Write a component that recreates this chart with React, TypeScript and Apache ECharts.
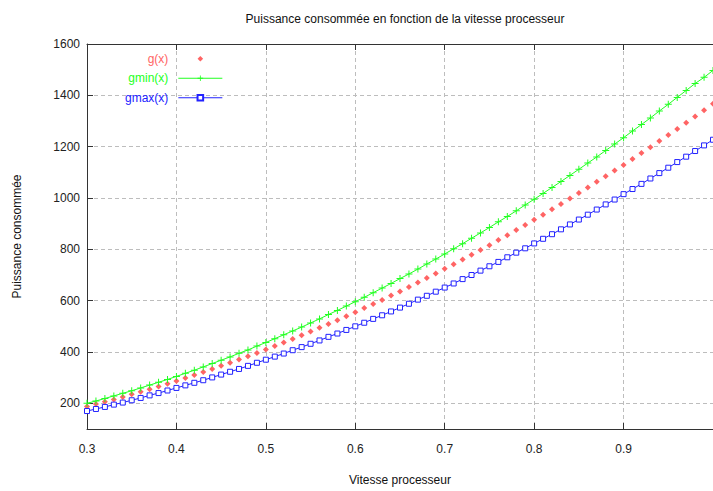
import React, { useEffect, useRef } from "react";
import * as echarts from "echarts";

const TITLE = "Puissance consommée en fonction de la vitesse processeur";
const X_NAME = "Vitesse processeur";
const Y_NAME = "Puissance consommée";
const SERIES_NAMES = ["g(x)", "gmin(x)", "gmax(x)"];

const xs = [
  0.3, 0.31, 0.32, 0.33, 0.34, 0.35, 0.36, 0.37, 0.38, 0.39,
  0.4, 0.41, 0.42, 0.43, 0.44, 0.45, 0.46, 0.47, 0.48, 0.49,
  0.5, 0.51, 0.52, 0.53, 0.54, 0.55, 0.56, 0.57, 0.58, 0.59,
  0.6, 0.61, 0.62, 0.63, 0.64, 0.65, 0.66, 0.67, 0.68, 0.69,
  0.7, 0.71, 0.72, 0.73, 0.74, 0.75, 0.76, 0.77, 0.78, 0.79,
  0.8, 0.81, 0.82, 0.83, 0.84, 0.85, 0.86, 0.87, 0.88, 0.89,
  0.9, 0.91, 0.92, 0.93, 0.94, 0.95, 0.96, 0.97, 0.98, 0.99,
  1.0,
];

const gValues = [
  188, 197, 206, 215, 225, 235, 245, 255, 266, 276,
  287, 299, 310, 322, 334, 346, 358, 371, 383, 396,
  410, 423, 437, 451, 465, 480, 494, 509, 524, 539,
  555, 571, 587, 603, 620, 636, 653, 671, 688, 706,
  724, 742, 760, 779, 797, 816, 836, 855, 875, 895,
  915, 935, 956, 977, 998, 1019, 1041, 1063, 1085, 1107,
  1129, 1152, 1175, 1198, 1222, 1245, 1269, 1293, 1318, 1342,
  1367,
];

const gminValues = [
  200, 209, 219, 229, 239, 249, 260, 271, 282, 293,
  305, 317, 329, 342, 355, 368, 381, 395, 408, 423,
  437, 452, 467, 482, 497, 513, 529, 546, 562, 579,
  596, 613, 631, 649, 667, 686, 704, 723, 743, 762,
  782, 802, 822, 843, 864, 885, 907, 928, 950, 973,
  995, 1018, 1041, 1064, 1088, 1112, 1136, 1160, 1185, 1210,
  1235, 1261, 1286, 1312, 1339, 1365, 1392, 1419, 1446, 1470,
  1497,
];

const gmaxValues = [
  170, 178, 186, 195, 203, 212, 221, 231, 240, 250,
  260, 270, 280, 290, 301, 312, 323, 334, 346, 358,
  370, 382, 394, 407, 419, 432, 445, 459, 472, 486,
  500, 514, 529, 543, 558, 573, 588, 604, 619, 635,
  651, 667, 684, 700, 717, 734, 751, 769, 787, 804,
  823, 841, 859, 878, 897, 916, 935, 955, 975, 994,
  1015, 1035, 1055, 1076, 1097, 1118, 1140, 1161, 1183, 1205,
  1227,
];

const FONT = '"Liberation Sans", Arial, sans-serif';
const RED = "#ff6464";
const GREEN = "#22ff22";
const BLUE = "#2222ff";
const AXIS = "#333333";
const GRIDC = "#bdbdbd";

const PLUS = "path://M3,0H4V3H7V4H4V7H3V4H0V3H3Z";

function pairs(vals: number[]) {
  return xs.map((x, i) => [x, vals[i]]);
}

export default function App() {
  const ref = useRef<HTMLDivElement>(null);
  useEffect(() => {
    if (!ref.current) return;
    const chart = echarts.init(ref.current, null, { renderer: "svg" });
    const label = { fontSize: 12, fontFamily: FONT, color: "#222" };
    chart.setOption({
      animation: false,
      backgroundColor: "#ffffff",
      title: {
        text: TITLE,
        left: 400,
        top: 8,
        textAlign: "center",
        textStyle: { fontSize: 12, fontWeight: "normal", color: "#111", fontFamily: FONT },
      },
      legend: {
        orient: "vertical",
        left: 125,
        top: 49,
        align: "right",
        itemWidth: 44,
        itemHeight: 7,
        itemGap: 0,
        padding: 0,
        lineStyle: { width: 1 },
        textStyle: { fontSize: 12, fontFamily: FONT, lineHeight: 19.5, padding: [0, 5, 0, 0] },
        data: [
          { name: SERIES_NAMES[0], textStyle: { color: RED } },
          { name: SERIES_NAMES[1], textStyle: { color: GREEN } },
          { name: SERIES_NAMES[2], textStyle: { color: BLUE } },
        ],
      },
      grid: { left: 87, top: 44, right: -1, bottom: 61 },
      xAxis: [
        {
          type: "value",
          min: 0.3,
          max: 1.0,
          interval: 0.1,
          name: X_NAME,
          nameLocation: "middle",
          nameGap: 45,
          nameTextStyle: { fontSize: 12, fontFamily: FONT, color: "#111" },
          axisLine: { show: true, onZero: false, lineStyle: { color: AXIS, width: 1 } },
          axisTick: { show: true, inside: true, length: 6, lineStyle: { color: AXIS } },
          axisLabel: { ...label, margin: 14, showMaxLabel: false },
          splitLine: {
            show: true,
            showMinLine: false,
            showMaxLine: false,
            lineStyle: { color: GRIDC, type: [4, 3], width: 1 },
          },
        },
        {
          type: "value",
          position: "top",
          min: 0.3,
          max: 1.0,
          interval: 0.1,
          axisLine: { show: true, onZero: false, lineStyle: { color: AXIS, width: 1 } },
          axisTick: { show: true, inside: true, length: 6, lineStyle: { color: AXIS } },
          axisLabel: { show: false },
          splitLine: { show: false },
        },
      ],
      yAxis: [
        {
          type: "value",
          min: 100,
          max: 1600,
          splitNumber: 7,
          name: Y_NAME,
          nameLocation: "middle",
          nameGap: 64,
          nameTextStyle: { fontSize: 12, fontFamily: FONT, color: "#111" },
          axisLine: { show: true, onZero: false, lineStyle: { color: AXIS, width: 1 } },
          axisTick: { show: true, inside: true, length: 6, lineStyle: { color: AXIS } },
          axisLabel: {
            ...label,
            margin: 7,
            showMinLabel: false,
            formatter: (v: number) => String(Math.round(v)),
          },
          splitLine: {
            show: true,
            showMinLine: false,
            showMaxLine: false,
            lineStyle: { color: GRIDC, type: [4, 3], width: 1 },
          },
        },
      ],
      series: [
        {
          name: SERIES_NAMES[0],
          type: "line",
          data: pairs(gValues),
          symbol: "diamond",
          symbolSize: 6,
          showSymbol: true,
          lineStyle: { width: 0, opacity: 0 },
          itemStyle: { color: RED },
          z: 3,
        },
        {
          name: SERIES_NAMES[1],
          type: "line",
          data: pairs(gminValues),
          symbol: PLUS,
          symbolSize: 7,
          showSymbol: true,
          lineStyle: { width: 1, color: GREEN },
          itemStyle: { color: GREEN },
          z: 3,
        },
        {
          name: SERIES_NAMES[2],
          type: "line",
          data: pairs(gmaxValues),
          symbol: "rect",
          symbolSize: 5,
          showSymbol: true,
          lineStyle: { width: 1, color: BLUE },
          itemStyle: { color: "#ffffff", borderColor: BLUE, borderWidth: 1 },
          z: 3,
        },
      ],
    });
    return () => chart.dispose();
  }, []);
  return (
    <div
      ref={ref}
      style={{ position: "fixed", left: 0, top: 0, width: 713, height: 491, background: "#fff" }}
    />
  );
}
